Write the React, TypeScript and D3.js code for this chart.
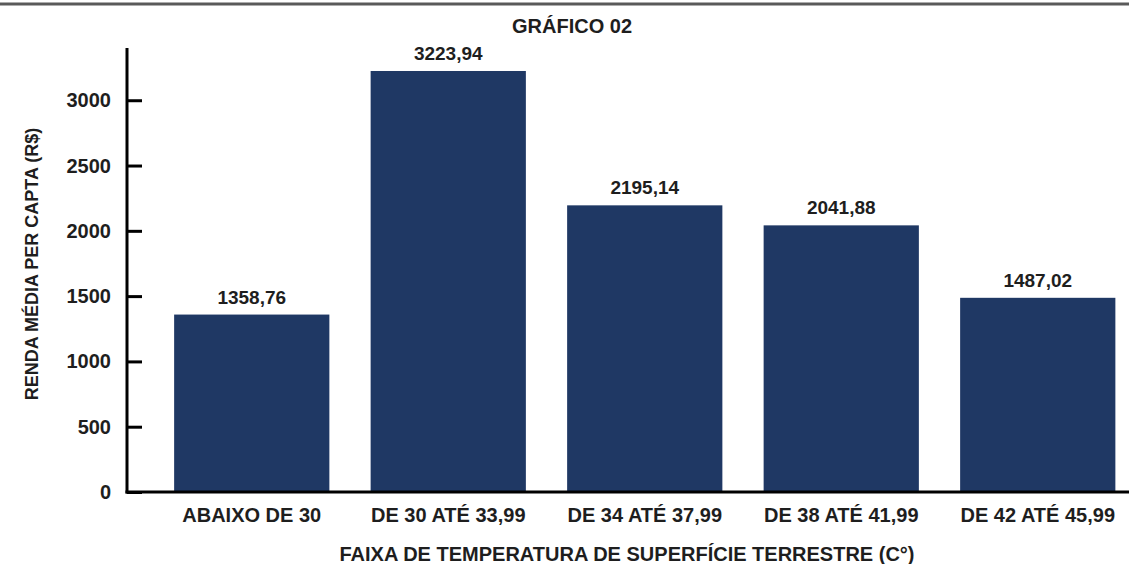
import React, { useEffect, useRef } from 'react';
import * as d3 from 'd3';

const categories = [
  'ABAIXO DE 30',
  'DE 30 ATÉ 33,99',
  'DE 34 ATÉ 37,99',
  'DE 38 ATÉ 41,99',
  'DE 42 ATÉ 45,99',
];
const values = [1358.76, 3223.94, 2195.14, 2041.88, 1487.02];
const yTicks = [0, 500, 1000, 1500, 2000, 2500, 3000];

const title = 'GRÁFICO 02';
const xTitle = 'FAIXA DE TEMPERATURA DE SUPERFÍCIE TERRESTRE (C°)';
const yTitle = 'RENDA MÉDIA PER CAPTA (R$)';

const W = 1129;
const H = 564;
const FONT = '"Liberation Sans", Arial, sans-serif';
const TEXT = '#1e1e1e';
const BAR = '#1f3864';

const fmt = (v: number) => v.toFixed(2).replace('.', ',');

const App: React.FC = () => {
  const svgRef = useRef<SVGSVGElement>(null);

  useEffect(() => {
    const svg = d3.select(svgRef.current);
    svg.selectAll('*').remove();

    const axisX = 127;
    const baseY = 492;

    const x = d3.scaleBand()
      .domain(categories)
      .range([153.5, 1136])
      .paddingInner(0.21)
      .paddingOuter(0.105);

    const y = d3.scaleLinear().domain([0, 3400]).range([baseY, 48]);

    const txt = (sel: any, size: number) =>
      sel
        .attr('font-family', FONT)
        .attr('font-weight', 'bold')
        .attr('font-size', size)
        .attr('fill', TEXT);

    // top rule
    svg.append('line')
      .attr('x1', 0).attr('x2', W)
      .attr('y1', 4).attr('y2', 4)
      .attr('stroke', '#5a5a5a')
      .attr('stroke-width', 3);

    // title
    svg.append('text')
      .attr('x', 572).attr('y', 33)
      .attr('text-anchor', 'middle')
      .call(txt, 20)
      .text(title);

    // bars
    svg.selectAll('.bar')
      .data(values)
      .enter()
      .append('rect')
      .attr('x', (_, i) => x(categories[i]) || 0)
      .attr('width', x.bandwidth())
      .attr('y', d => y(d))
      .attr('height', d => baseY - y(d))
      .attr('fill', BAR);

    // value labels
    svg.selectAll('.vlabel')
      .data(values)
      .enter()
      .append('text')
      .attr('x', (_, i) => (x(categories[i]) || 0) + x.bandwidth() / 2)
      .attr('y', d => y(d) - 11)
      .attr('text-anchor', 'middle')
      .call(txt, 19)
      .text(d => fmt(d));

    // y axis
    const yAxis = svg.append('g')
      .attr('transform', `translate(${axisX},0)`)
      .call(d3.axisRight(y).tickValues(yTicks).tickSize(15).tickFormat(() => ''));
    yAxis.select('.domain').remove();
    yAxis.selectAll('line').attr('stroke', '#000').attr('stroke-width', 3);

    svg.append('line')
      .attr('x1', axisX).attr('x2', axisX)
      .attr('y1', 48).attr('y2', baseY + 1.5)
      .attr('stroke', '#000').attr('stroke-width', 3);

    svg.selectAll('.ytl')
      .data(yTicks)
      .enter()
      .append('text')
      .attr('x', 111)
      .attr('y', d => y(d) + 7)
      .attr('text-anchor', 'end')
      .call(txt, 20)
      .text(d => String(d));

    // x axis
    svg.append('line')
      .attr('x1', axisX - 1.5).attr('x2', W)
      .attr('y1', baseY).attr('y2', baseY)
      .attr('stroke', '#000').attr('stroke-width', 3);

    svg.selectAll('.xtl')
      .data(categories)
      .enter()
      .append('text')
      .attr('x', d => (x(d) || 0) + x.bandwidth() / 2)
      .attr('y', 522)
      .attr('text-anchor', 'middle')
      .call(txt, 20)
      .text(d => d);

    svg.append('text')
      .attr('x', 627).attr('y', 561)
      .attr('text-anchor', 'middle')
      .call(txt, 20)
      .text(xTitle);

    svg.append('text')
      .attr('transform', `translate(38,264) rotate(-90)`)
      .attr('text-anchor', 'middle')
      .call(txt, 18)
      .text(yTitle);
  }, []);

  return (
    <svg
      ref={svgRef}
      width={W}
      height={H}
      style={{ position: 'absolute', left: 0, top: 0, background: '#fff' }}
    />
  );
};

export default App;
